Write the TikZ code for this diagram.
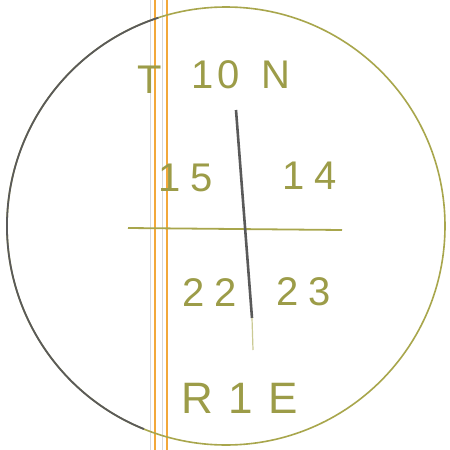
\documentclass[tikz,border=0pt]{standalone}
\usepackage{fontspec}
\setmainfont{Liberation Sans}
\begin{document}
\begin{tikzpicture}[x=1pt,y=-1pt,
  lab/.style={font=\fontsize{40}{40}\selectfont\addfontfeature{LetterSpace=25}, text=pencil, inner sep=0pt, anchor=center},
  margin/.style={draw=marginc, line width=1.1pt},
  faint/.style={draw=gray!30, line width=0.7pt}]
\definecolor{pencil}{HTML}{9C9C48}
\definecolor{darkpencil}{HTML}{5A5A5A}
\definecolor{circ}{HTML}{A8A64C}
\definecolor{marginc}{HTML}{F2A83A}
\useasboundingbox (0,0) rectangle (450,450);
\fill[white] (0,0) rectangle (450,450);
% margin lines
\draw[faint] (150,0) -- (150,450);
\draw[faint] (162,0) -- (162,450);
\draw[margin] (155,0) -- (155,450);
\draw[margin] (167,0) -- (167,450);
% circle
\coordinate (c) at (226,226);
\draw[circ, line width=1.6pt] (c) circle[radius=219];
\draw[darkpencil, line width=1.8pt] (c) ++(112:219) arc[start angle=112, end angle=252, radius=219];
% section lines
\coordinate (vt) at (236,110);
\coordinate (vb) at (252,318);
\coordinate (ve) at (253,350);
\coordinate (hl) at (128,228);
\coordinate (hr) at (342,230);
\draw[circ, line width=1.8pt] (hl) -- (hr);
\draw[darkpencil, line width=2.6pt] (vt) -- (vb);
\draw[circ!60, line width=1.2pt] (vb) -- (ve);
% labels
\node[lab] (t) at (150,80) {T};
\node[lab, font=\fontsize{40}{40}\selectfont\addfontfeature{LetterSpace=10}] (ten) at (216,75) {10};
\node[lab] (n) at (276,75) {N};
\node[lab] (s15) at (186,178) {15};
\node[lab] (s14) at (310,176) {14};
\node[lab] (s22) at (210,293) {22};
\node[lab] (s23) at (304,292) {23};
\node[lab, font=\fontsize{44}{44}\selectfont\addfontfeature{LetterSpace=35}] (r) at (240,398) {R1E};
\end{tikzpicture}
\end{document}
